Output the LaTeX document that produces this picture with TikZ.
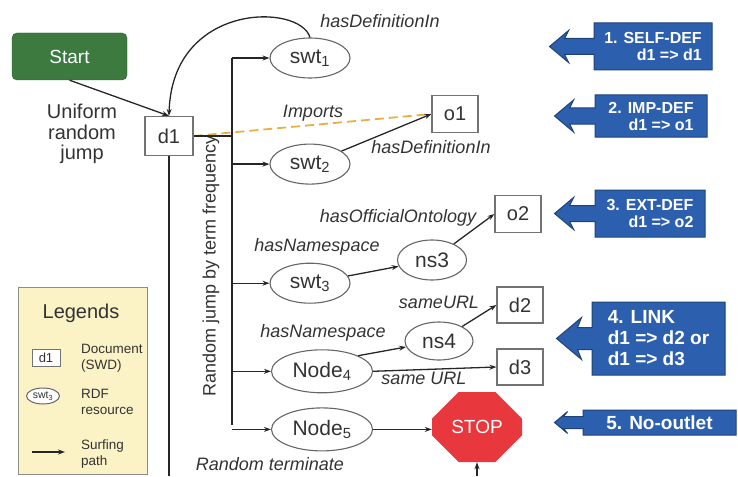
\documentclass[tikz,border=0pt]{standalone}
\usepackage{fontspec}
\setmainfont{Liberation Sans}
\usetikzlibrary{positioning,arrows.meta,shapes.geometric,shapes.arrows,shapes.misc}

\definecolor{startgreen}{HTML}{3C7A3F}
\definecolor{stopred}{HTML}{E8383D}
\definecolor{calloutblue}{HTML}{2C5FAD}
\definecolor{legendfill}{HTML}{FBF3C6}
\definecolor{importorange}{HTML}{E8B040}
\definecolor{txtgray}{HTML}{333333}

\tikzset{
  doc/.style={draw=black!55, line width=1.2pt, fill=white, minimum width=46pt, minimum height=37pt,
    inner sep=0pt, text=txtgray, font=\fontsize{20}{24}\selectfont},
  res/.style={ellipse, draw=black!60, line width=1.1pt, fill=white, minimum width=80pt, minimum height=40pt,
    inner sep=0pt, text=txtgray, font=\fontsize{21}{24}\selectfont},
  lbl/.style={inner sep=1pt, text=txtgray, font=\fontsize{18}{21}\selectfont\itshape},
  plain/.style={inner sep=1pt, text=txtgray, font=\fontsize{18}{21}\selectfont},
  small/.style={inner sep=0pt, text=txtgray, align=left, anchor=west, font=\fontsize{13.5}{16}\selectfont},
  surf/.style={-{Stealth[length=7pt,width=5pt]}, line width=1.3pt, draw=black!85},
  trunk/.style={line width=2pt, draw=black!85},
  imports/.style={dash pattern=on 9pt off 5pt, line width=1.8pt, draw=importorange},
  callout/.style={arrow box, fill=calloutblue, draw=calloutblue!70!black, line width=1pt,
    text=white, inner sep=2pt, align=right, arrow box tip angle=80, arrow box head indent=4pt,
    arrow box shaft width=16pt, arrow box head extend=8pt,
    font=\fontsize{16}{17}\selectfont\bfseries},
}

\begin{document}
\begin{tikzpicture}[x=1pt, y=1pt]
  \useasboundingbox (0,0) rectangle (738,-476);

  % Define nodes
  \node[rounded corners=5pt, fill=startgreen, draw=startgreen!70!black, minimum width=115pt,
        minimum height=47pt, text=white, font=\fontsize{19}{22}\selectfont] (start) at (69.5,-56.5) {Start};
  \node[plain, align=center, font=\fontsize{20}{20.5}\selectfont] (uniform) at (82,-134) {Uniform\\random\\jump};
  \node[doc, minimum width=48pt, minimum height=39pt] (d1) at (169,-136) {d1};

  \node[res]                                      (swt1)  at (310,-58) {swt\textsubscript{1}};
  \node[res, below=65pt of swt1]                  (swt2)  {swt\textsubscript{2}};
  \node[res, below=78pt of swt2]                  (swt3)  {swt\textsubscript{3}};
  \node[res, minimum width=101pt, minimum height=43pt,
        below=45.5pt of swt3, xshift=12pt]        (node4) {Node\textsubscript{4}};
  \node[res, minimum width=101pt, minimum height=43pt,
        below=14pt of node4]                      (node5) {Node\textsubscript{5}};

  \node[doc]                                      (o1)  at (455,-114) {o1};
  \node[doc]                                      (o2)  at (518,-214) {o2};
  \node[res, minimum width=69pt]                  (ns3) at (432,-260) {ns3};
  \node[res, minimum width=68pt, minimum height=38pt] (ns4) at (439,-341) {ns4};
  \node[doc, minimum height=36pt]                 (d2)  at (520,-305) {d2};
  \node[doc, minimum height=36pt]                 (d3)  at (520,-367) {d3};
  \node[chamfered rectangle, chamfered rectangle xsep=20pt, chamfered rectangle ysep=20pt,
        minimum width=90pt, minimum height=70pt, inner sep=0pt, fill=stopred, text=white,
        font=\fontsize{19}{22}\selectfont] (stop) at (477,-427) {STOP};

  \node[plain, rotate=90] (freq) at (211,-266) {Random jump by term frequency};
  \node[lbl] (lselfdef) at (380,-21)  {hasDefinitionIn};
  \node[lbl] (limports) at (313,-113) {Imports};
  \node[lbl] (limpdef)  at (431,-147) {hasDefinitionIn};
  \node[lbl] (lofficial) at (398,-218) {hasOfficialOntology};
  \node[lbl] (lns3)     at (317,-247) {hasNamespace};
  \node[lbl] (lns4)     at (323,-333) {hasNamespace};
  \node[lbl] (lsame)    at (439,-302) {sameURL};
  \node[lbl] (lsame2)   at (424,-378) {same URL};
  \node[lbl] (lterm)    at (270,-464) {Random terminate};

  % Callouts
  \node[callout, minimum width=118pt, minimum height=47pt,
        arrow box arrows={west:44pt from border}] (selfdef) at (653,-46.5) {1. SELF-DEF\\d1 => d1};
  \node[callout, minimum width=112pt, minimum height=42pt,
        arrow box arrows={west:40pt from border}] (impdef)  at (651,-116)  {2. IMP-DEF\\d1 => o1};
  \node[callout, minimum width=110pt, minimum height=47pt,
        arrow box arrows={west:40pt from border}] (extdef)  at (650,-213.5) {3. EXT-DEF\\d1 => o2};
  \node[callout, minimum width=133pt, minimum height=73pt, align=left,
        arrow box shaft width=22pt, arrow box head extend=10pt,
        font=\fontsize{19}{21}\selectfont\bfseries,
        arrow box arrows={west:35pt from border}] (link)    at (658.5,-338.5) {4. LINK\\d1 => d2 or\\d1 => d3};
  \node[callout, minimum width=153pt, minimum height=25pt, align=center,
        arrow box shaft width=12pt, arrow box head extend=5pt,
        font=\fontsize{19}{21}\selectfont\bfseries,
        arrow box arrows={west:28pt from border}] (nooutlet) at (659.5,-422.5) {5. No-outlet};

  % Legend
  \node[draw=black!45, line width=1pt, fill=legendfill, minimum width=129pt, minimum height=187pt] (legend) at (82.5,-380.5) {};
  \node[plain, font=\fontsize{20}{22}\selectfont] (legtitle) at (81,-313) {Legends};
  \node[doc, minimum width=28pt, minimum height=17pt, line width=1pt, font=\fontsize{13}{15}\selectfont] (legdoc) at (46,-358) {d1};
  \node[small] (legdoctxt) at (81,-358) {Document\\(SWD)};
  \node[res, minimum width=33pt, minimum height=16pt, line width=1pt, font=\fontsize{10.5}{12}\selectfont] (legres) at (43,-396) {swt\textsubscript{3}};
  \node[small] (legrestxt) at (81,-401.5) {RDF\\resource};
  \coordinate (legarrow) at (32,-452);
  \coordinate (legarrowend) at (65,-452);
  \node[small] (legarrowtxt) at (81,-454.5) {Surfing\\path};

  \coordinate (trunktop) at (232,-58);
  \coordinate (trunkbot) at (232,-425);
  \coordinate (rtend) at (477,-476);

  % Connect the nodes
  \draw[surf] (start.south) -- (d1.north);
  \draw[surf] (swt1.north) .. controls (300,-3) and (172,-2) .. (d1.north);
  \draw[imports] (d1.east) -- (o1.west);
  \draw[trunk] (d1.east) -- (d1 -| trunktop);
  \draw[trunk] (trunktop) -- (trunkbot);
  \foreach \n in {swt1,swt2,swt3,node4,node5}
    \draw[surf] (trunktop |- \n) -- (\n.west);
  \draw[surf] (swt2) -- (o1.west);
  \draw[surf] (swt3) -- (ns3);
  \draw[surf] (ns3) -- (o2.west);
  \draw[surf] (node4.north east) -- (ns4);
  \draw[surf] (ns4) -- (d2.west);
  \draw[surf] (node4.east) -- (d3.west);
  \draw[surf] (node5.east) -- (node5.east -| stop.west);
  \draw[trunk] (d1.south) -- (d1.south |- rtend);
  \draw[surf] (rtend) -- (stop.south);
  \draw[surf] (legarrow) -- (legarrowend);
\end{tikzpicture}
\end{document}
